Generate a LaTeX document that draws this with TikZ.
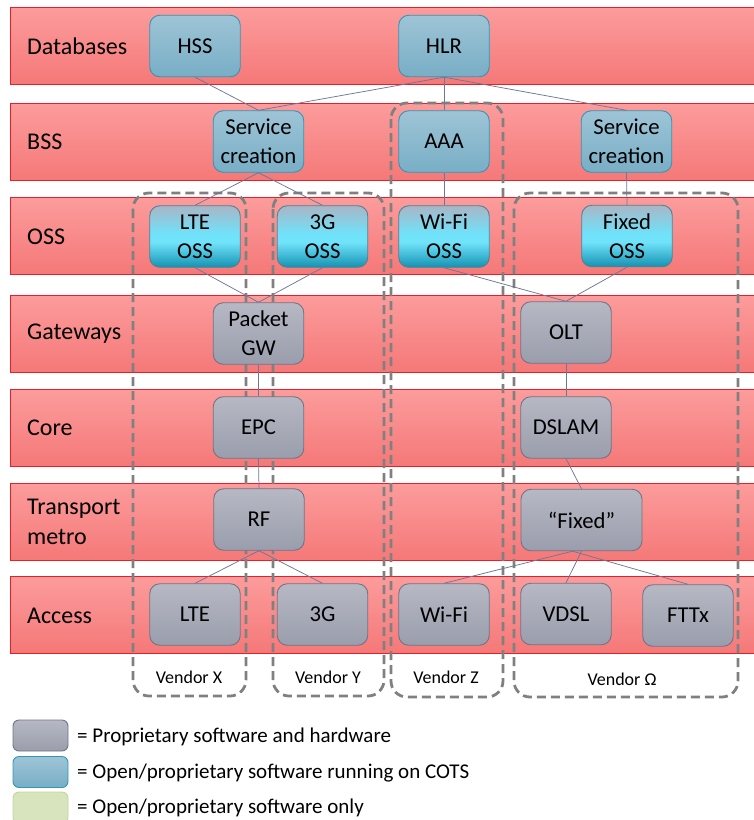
\documentclass[tikz,border=0pt]{standalone}
\usepackage{fontspec}
\setmainfont{Carlito}
\definecolor{bandtop}{RGB}{252,156,156}
\definecolor{bandbot}{RGB}{245,120,120}
\definecolor{bandedge}{RGB}{232,30,40}
\definecolor{proptop}{RGB}{182,184,196}
\definecolor{propbot}{RGB}{154,157,171}
\definecolor{propedge}{RGB}{112,116,134}
\definecolor{cotstop}{RGB}{158,196,214}
\definecolor{cotsbot}{RGB}{120,174,198}
\definecolor{cotsedge}{RGB}{50,150,182}
\definecolor{osstop}{RGB}{168,182,198}
\definecolor{ossmid}{RGB}{112,226,250}
\definecolor{ossbot}{RGB}{20,146,178}
\definecolor{ossedge}{RGB}{80,130,150}
\definecolor{greenfill}{RGB}{216,228,190}
\definecolor{greenedge}{RGB}{196,214,160}
\definecolor{linkcol}{RGB}{108,120,150}
\definecolor{vendcol}{RGB}{128,128,128}
\pgfdeclareverticalshading{ossshade}{100bp}{color(0bp)=(ossbot); color(25bp)=(ossbot); color(45bp)=(ossmid); color(52bp)=(ossmid); color(75bp)=(osstop); color(100bp)=(osstop)}
\tikzset{
  band/.style={draw=bandedge, line width=0.8pt, top color=bandtop, bottom color=bandbot},
  layerlabel/.style={anchor=west, inner sep=0pt, align=left, font=\fontsize{24}{30}\selectfont},
  box/.style={rounded corners=10pt, minimum width=90.5pt, minimum height=61.5pt, inner sep=0pt,
              align=center, line width=0.9pt, font=\fontsize{22.7}{29}\selectfont},
  prop/.style={box, draw=propedge, top color=proptop, bottom color=propbot},
  cots/.style={box, draw=cotsedge, top color=cotstop, bottom color=cotsbot},
  oss/.style={box, draw=ossedge, shading=ossshade},
  link/.style={draw=linkcol, line width=0.75pt},
  vendor/.style={draw=vendcol, line width=2.8pt, dash pattern=on 9pt off 5pt, rounded corners=16pt},
  vendorlabel/.style={inner sep=0pt, font=\fontsize{18}{22}\selectfont},
  keybox/.style={rounded corners=6pt, line width=0.9pt, minimum width=55pt, minimum height=31pt, inner sep=0pt},
  keytext/.style={anchor=west, inner sep=0pt, font=\fontsize{21}{26}\selectfont},
}
\begin{document}
\begin{tikzpicture}[x=1pt,y=-1pt]
\useasboundingbox (0,0) rectangle (754,820);

% horizontal layers
\foreach \t in {7,103,197,295,389,483,576}
  \draw[band] (10,\t) rectangle (760,\t+77.5);

\node[layerlabel] (lDb)  at (27,46)    {Databases};
\node[layerlabel] (lBss) at (27,142)   {BSS};
\node[layerlabel] (lOss) at (27,236.5) {OSS};
\node[layerlabel] (lGw)  at (27,333.5) {Gateways};
\node[layerlabel] (lCo)  at (27,428)   {Core};
\node[layerlabel] (lTr)  at (27,522)   {Transport\\metro};
\node[layerlabel] (lAc)  at (27,616)   {Access};

% vendor domains, behind the elements
\draw[vendor] (133,193) rectangle (246,696);
\draw[vendor] (273,193) rectangle (384,696);
\draw[vendor] (391,103) rectangle (503,697);
\draw[vendor] (514,193) rectangle (738,697);
\node[vendorlabel] (vx) at (189,677) {Vendor X};
\node[vendorlabel] (vy) at (328,677) {Vendor Y};
\node[vendorlabel] (vz) at (446,677) {Vendor Z};
\node[vendorlabel] (vo) at (622,679) {Vendor Ω};

% network elements
\node[cots] (hss)  at (195,46)      {HSS};
\node[cots] (hlr)  at (444,46)      {HLR};
\node[cots] (scl)  at (258.5,141.5) {Service\\creation};
\node[cots] (aaa)  at (444,141.5)   {AAA};
\node[cots] (scr)  at (626.5,141.5) {Service\\creation};

\node[oss] (lteoss)  at (195,236.5)   {LTE\\OSS};
\node[oss] (g3oss)   at (322.5,236.5) {3G\\OSS};
\node[oss] (wifioss) at (444,236.5)   {Wi-Fi\\OSS};
\node[oss] (fixoss)  at (627,236)     {Fixed\\OSS};

\node[prop] (pgw)   at (258.5,333.5) {Packet\\GW};
\node[prop] (epc)   at (258.5,427.5) {EPC};
\node[prop] (rf)    at (259,519.5)   {RF};
\node[prop] (lte)   at (195,614.5)   {LTE};
\node[prop] (g3)    at (322.5,614.5) {3G};
\node[prop] (olt)   at (566,332.5)   {OLT};
\node[prop] (dslam) at (566,427.5)   {DSLAM};
\node[prop, minimum width=121pt] (fixed) at (581.5,520) {“Fixed”};
\node[prop] (wifi)  at (444,614.5)   {Wi-Fi};
\node[prop] (vdsl)  at (566,614)     {VDSL};
\node[prop] (fttx)  at (688,615.5)   {FTTx};

% links
\coordinate (fixedtap) at ([xshift=-9pt]fixed.south);
\draw[link] (hss.south) -- (scl.north);
\draw[link] (hlr.south) -- (scl.north);
\draw[link] (hlr.south) -- (aaa.north);
\draw[link] (hlr.south) -- (scr.north);
\draw[link] (scl.south) -- (lteoss.north);
\draw[link] (scl.south) -- (g3oss.north);
\draw[link] (aaa.south) -- (wifioss.north);
\draw[link] (scr.south) -- (fixoss.north);
\draw[link] (lteoss.south) -- (pgw.north);
\draw[link] (g3oss.south) -- (pgw.north);
\draw[link] (wifioss.south) -- (olt.north);
\draw[link] (fixoss.south) -- (olt.north);
\draw[link] (pgw.south) -- (epc.north);
\draw[link] (epc.south) -- (rf.north);
\draw[link] (rf.south) -- (lte.north);
\draw[link] (rf.south) -- (g3.north);
\draw[link] (olt.south) -- (dslam.north);
\draw[link] (dslam.south) -- (fixed.north);
\draw[link] (fixed.south) -- (vdsl.north);
\draw[link] (fixedtap) -- (wifi.north);
\draw[link] (fixedtap) -- (fttx.north);

% key
\node[keybox, draw=propedge, top color=proptop, bottom color=propbot] (k1) at (40.5,735.5) {};
\node[keybox, draw=cotsedge, top color=cotstop, bottom color=cotsbot] (k2) at (40.5,772) {};
\node[keybox, draw=greenedge, fill=greenfill] (k3) at (40.5,807.5) {};
\node[keytext] (t1) at (77,737) {= Proprietary software and hardware};
\node[keytext] (t2) at (77,773) {= Open/proprietary software running on COTS};
\node[keytext] (t3) at (77,808) {= Open/proprietary software only};
\end{tikzpicture}
\end{document}
